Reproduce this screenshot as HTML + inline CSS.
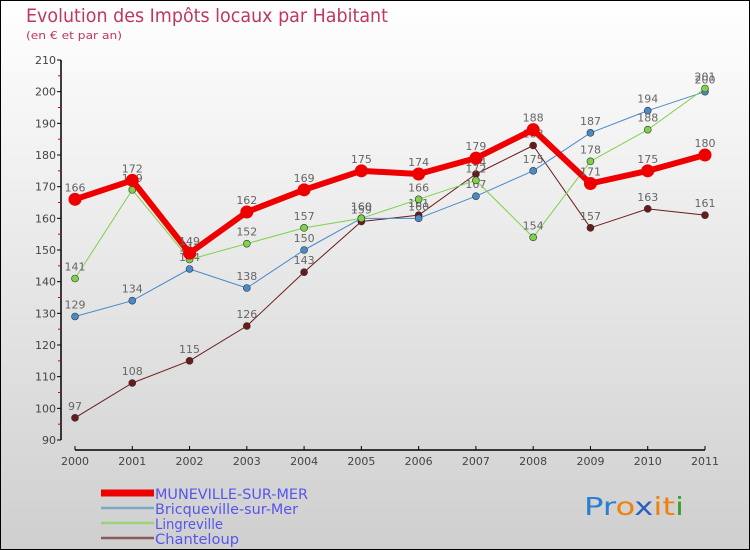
<!DOCTYPE html>
<html><head><meta charset="utf-8"><style>
body{margin:0}
#wrap{width:750px;height:550px;position:relative;overflow:hidden;background:linear-gradient(#ffffff,#cfcfcf);font-family:"DejaVu Sans","Liberation Sans",sans-serif}
</style></head><body>
<div id="wrap">
<svg id="chart" width="750" height="550">
<rect x="0.5" y="0.5" width="749" height="549" fill="none" stroke="#000"/>
<text x="26" y="22" font-size="19" fill="#c0365e" textLength="362" lengthAdjust="spacingAndGlyphs">Evolution des Impôts locaux par Habitant</text>
<text x="26" y="39" font-size="11" fill="#c0365e" textLength="96" lengthAdjust="spacingAndGlyphs">(en € et par an)</text>
</svg>
</div>
<script>
const years=["2000","2001","2002","2003","2004","2005","2006","2007","2008","2009","2010","2011"];
const yTicks=[90,100,110,120,130,140,150,160,170,180,190,200,210];
const muneville=[166,172,149,162,169,175,174,179,188,171,175,180];
const bricqueville=[129,134,144,138,150,160,160,167,175,187,194,200];
const lingreville=[141,169,147,152,157,160,166,172,154,178,188,201];
const chanteloup=[97,108,115,126,143,159,161,174,183,157,163,161];
const seriesNames=["MUNEVILLE-SUR-MER","Bricqueville-sur-Mer","Lingreville","Chanteloup"];
const NS="http://www.w3.org/2000/svg";
const svg=document.getElementById('chart');
function X(i){return 75+i*(630/11);}
function Y(v){return 440-(v-90)*(380/120);}
function mk(t,a,p){const e=document.createElementNS(NS,t);for(const k in a)e.setAttribute(k,a[k]);(p||svg).appendChild(e);return e;}
let ya=mk('line',{x1:61,y1:60,x2:61,y2:440,stroke:'#000','stroke-width':1.5});


yTicks.forEach((v,i)=>{
 let t=mk('line',{x1:57,x2:61,y1:Y(v),y2:Y(v),stroke:'#000'});
 
 
 if(i<yTicks.length-1){let m=mk('line',{x1:58,x2:61,y1:Y(v+5),y2:Y(v+5),stroke:'#d00'});
 
 }
 let l=mk('text',{x:56,y:Y(v)+4,'text-anchor':'end','font-size':11,fill:'#444'});l.textContent=v;
 
 
});
let xa=mk('line',{x1:75,y1:450,x2:705,y2:450,stroke:'#000','stroke-width':1.5});


years.forEach((y,i)=>{
 let t=mk('line',{x1:X(i),x2:X(i),y1:446,y2:450,stroke:'#000'});
 
 
 let l=mk('text',{x:X(i),y:465,'text-anchor':'middle','font-size':11,fill:'#444'});l.textContent=y;
 
 
});
function series(data,color,lw,r,name){
 const g=mk('g',{});
 
 
 mk('polyline',{points:data.map((v,i)=>X(i)+','+Y(v)).join(' '),fill:'none',stroke:color,'stroke-width':lw,'stroke-linejoin':'round'},g);
 data.forEach((v,i)=>{
  let c=mk('circle',{cx:X(i),cy:Y(v),r:r,fill:color,stroke:'#333','stroke-width':r>4?0:0.6},g);
  
  
  let l=mk('text',{x:X(i),y:Y(v)-8,'text-anchor':'middle','font-size':11,fill:'#666'},g);l.textContent=v;
  
  
 });
}
series(chanteloup,'#6b1a1a',1,3.5,'series-chanteloup');
series(bricqueville,'#4a8ac8',1,3.5,'series-bricqueville');
series(lingreville,'#7fd14a',1,3.5,'series-lingreville');
series(muneville,'#ee0000',6,6.5,'series-muneville');
const lc=['#ee0000','#7fa8c8','#99d47a','#8b5a5a'];const lw=[7,2.5,2.5,2.5];
seriesNames.forEach((n,i)=>{
 const y=493+i*15;
 let ln=mk('line',{x1:101,x2:154,y1:y,y2:y,stroke:lc[i],'stroke-width':lw[i]});
 
 
 let t=mk('text',{x:155,y:y+6,'font-size':14,fill:'#5555ee','textLength':i==0?153:i==1?143:i==2?68:84,'lengthAdjust':'spacingAndGlyphs'});t.textContent=n;
 
 
});
const logo=mk('text',{x:584,y:515,'font-size':25,'textLength':100,'lengthAdjust':'spacingAndGlyphs'});


[['P','#2a7fd0'],['r','#2a7fd0'],['o','#f08010'],['x','#2a5fc0'],['i','#f08010'],['t','#f08010'],['i','#3aa030']].forEach(([c,col])=>{const s=mk('tspan',{fill:col},logo);s.textContent=c;});
</script>
</body></html>
